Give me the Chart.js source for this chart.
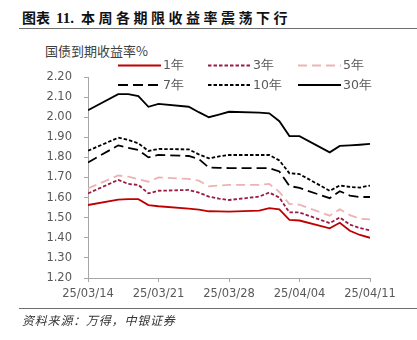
<!DOCTYPE html>
<html>
<head>
<meta charset="utf-8">
<script src="https://cdn.jsdelivr.net/npm/chart.js@4"></script>
<style>
  body { margin: 0; background: #fff; }
  #wrap { position: relative; width: 417px; height: 340px; overflow: hidden; }
  #wrap canvas { position: absolute; left: 0; top: 0; }
  .title { position: absolute; left: 22px; top: 7px; font: bold 14px "Noto Sans CJK SC", sans-serif; color: #111; white-space: nowrap; }
  .title .num { font-family: "Liberation Serif", serif; font-size: 15px; margin: 0 7px 0 6px; }
  .title .rest { letter-spacing: 3.5px; }
  .rule { position: absolute; left: 19px; right: 0; height: 0; border-top: 1.5px solid #6f6f6f; }
  .unit { position: absolute; left: 45px; top: 41px; font: 13px "Noto Sans CJK SC", sans-serif; color: #404040; }
  .src { position: absolute; left: 22px; top: 311px; font: italic 12px "Noto Sans CJK SC", sans-serif; color: #333; letter-spacing: 0.8px; }
</style>
</head>
<body>
<div id="wrap">
  <div class="title">图表<span class="num">11.</span><span class="rest">本周各期限收益率震荡下行</span></div>
  <div class="rule" style="top:28px"></div>
  <div class="unit">国债到期收益率%</div>
  <canvas id="grafica"></canvas>
  <div class="rule" style="top:308px"></div>
  <div class="src">资料来源：万得，中银证券</div>
</div>
<script>
// fechas de negociacion (2025)
const fechas = ['03/14','03/17','03/18','03/19','03/20','03/21','03/24','03/25','03/26','03/27','03/28',
                '03/31','04/01','04/02','04/03','04/04','04/07','04/08','04/09','04/10','04/11'];
const etiquetasX = ['25/03/14','25/03/21','25/03/28','25/04/04','25/04/11'];
const etiquetas = ['1年','3年','5年','7年','10年','30年'];

const y1  = [1.563,1.590,1.592,1.592,1.563,1.557,1.545,1.540,1.532,1.531,1.530,1.535,1.548,1.542,1.489,1.486,1.447,1.475,1.435,1.414,1.400];
const y3  = [1.621,1.688,1.668,1.663,1.621,1.634,1.638,1.625,1.605,1.595,1.588,1.605,1.625,1.600,1.526,1.526,1.473,1.501,1.466,1.448,1.437];
const y5  = [1.646,1.710,1.704,1.692,1.679,1.700,1.693,1.684,1.656,1.660,1.663,1.663,1.668,1.628,1.568,1.565,1.510,1.542,1.513,1.495,1.492];
const y7  = [1.775,1.860,1.848,1.837,1.800,1.812,1.807,1.792,1.749,1.748,1.747,1.747,1.746,1.730,1.658,1.648,1.597,1.632,1.610,1.603,1.603];
const y10 = [1.833,1.898,1.887,1.870,1.832,1.842,1.840,1.815,1.795,1.805,1.812,1.812,1.812,1.785,1.721,1.717,1.634,1.660,1.653,1.650,1.660];
const y30 = [2.035,2.115,2.115,2.105,2.052,2.066,2.052,2.025,2.000,2.013,2.027,2.023,2.019,1.980,1.906,1.906,1.825,1.857,1.860,1.863,1.867];

const base = Date.UTC(2025, 2, 14);
const dias = fechas.map((f) => {
  const [m, d] = f.split('/').map(Number);
  return (Date.UTC(2025, m - 1, d) - base) / 86400000;
});
const serie = (vals) => vals.map((v, i) => ({ x: dias[i], y: v }));

const estilos = [
  { color: '#C00000', dash: [] },
  { color: '#9A1C44', dash: [3.5, 2] },
  { color: '#EDB3B3', dash: [9, 5] },
  { color: '#000000', dash: [10, 5] },
  { color: '#000000', dash: [3.5, 2] },
  { color: '#000000', dash: [] }
];
const valores = [y1, y3, y5, y7, y10, y30];

// leyenda en rejilla de 3 columnas
const leyenda = {
  id: 'leyenda',
  afterDraw(chart) {
    const ctx = chart.ctx;
    const a = chart.chartArea;
    ctx.save();
    ctx.font = '12.5px "DejaVu Sans", sans-serif';
    ctx.textBaseline = 'middle';
    ctx.fillStyle = '#595959';
    chart.data.datasets.forEach((ds, i) => {
      const x0 = a.left + 30 + (i % 3) * 90;
      const y0 = a.top - 11.5 + (i < 3 ? 0 : 19.5);
      ctx.strokeStyle = ds.borderColor;
      ctx.lineWidth = 2;
      ctx.setLineDash(ds.borderDash);
      ctx.beginPath();
      ctx.moveTo(x0, y0);
      ctx.lineTo(x0 + 43, y0);
      ctx.stroke();
      ctx.fillText(ds.label, x0 + 45, y0 + 0.5);
    });
    ctx.restore();
  }
};

const ctx1 = document.getElementById('grafica').getContext('2d');
const chart1 = new Chart(ctx1, {
  type: 'line',
  data: {
    datasets: valores.map((v, i) => ({
      label: etiquetas[i],
      data: serie(v),
      borderColor: estilos[i].color,
      borderDash: estilos[i].dash,
      borderWidth: 1.8,
      pointRadius: 0,
      tension: 0,
      fill: false
    }))
  },
  options: {
    responsive: true,
    maintainAspectRatio: false,
    animation: false,
    layout: { padding: { left: 40, right: 47, top: 77, bottom: 32 } },
    plugins: { legend: { display: false }, tooltip: { enabled: false } },
    scales: {
      x: {
        type: 'linear',
        min: 0,
        max: 28,
        afterFit: (s) => { s.height = 30; },
        grid: { drawOnChartArea: false, drawTicks: true, tickLength: 4, color: '#a6a6a6' },
        border: { display: true, color: '#a6a6a6', width: 1 },
        ticks: {
          stepSize: 7,
          padding: 5,
          maxRotation: 0,
          color: '#595959',
          font: { family: '"DejaVu Sans", sans-serif', size: 11.5 },
          callback: (v) => etiquetasX[Math.round(v / 7)]
        }
      },
      y: {
        min: 1.2,
        max: 2.2,
        afterFit: (s) => { s.width = 48; },
        grid: { drawOnChartArea: false, drawTicks: true, tickLength: 4, color: '#a6a6a6' },
        border: { display: true, color: '#a6a6a6', width: 1 },
        ticks: {
          stepSize: 0.1,
          padding: 12,
          color: '#595959',
          font: { family: '"DejaVu Sans", sans-serif', size: 11.5 },
          callback: (v) => v.toFixed(2)
        }
      }
    }
  },
  plugins: [leyenda]
});
</script>
</body>
</html>
